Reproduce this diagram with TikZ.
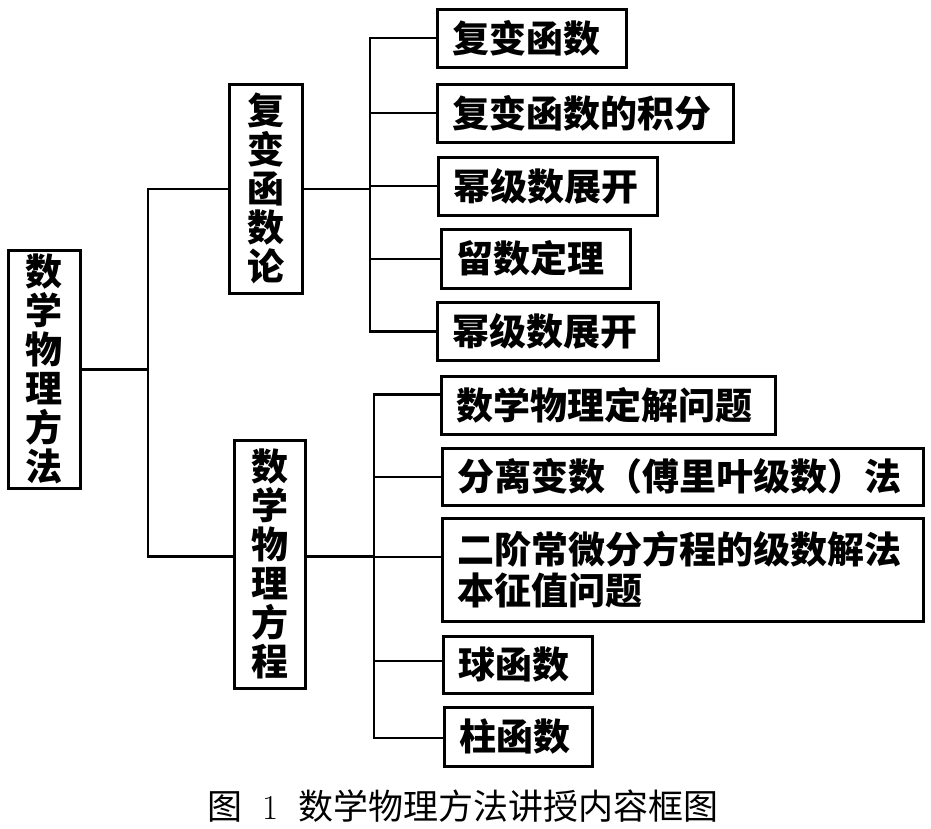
\documentclass[tikz,border=0pt]{standalone}
\usepackage{fontspec}
\newfontfamily\cjk{Noto Sans CJK SC}
\begin{document}
\begin{tikzpicture}[x=1pt, y=-1pt,
  box/.style={draw, line width=2.6pt, anchor=north west, inner sep=0pt},
  vbox/.style={box, align=center, font=\cjk\bfseries\fontsize{37}{39}\selectfont},
  leaf/.style={box, inner xsep=15pt, align=left, font=\cjk\bfseries\fontsize{37}{41}\selectfont},
  link/.style={line width=2.4pt, line cap=rect}]

\useasboundingbox (0,0) rectangle (931,829);

% vertical boxes
\node[vbox, minimum width=72pt, minimum height=238pt] (root) at (7,249) {数\\学\\物\\理\\方\\法};
\node[vbox, minimum width=73pt, minimum height=209pt] (A) at (228,83) {复\\变\\函\\数\\论};
\node[vbox, minimum width=71pt, minimum height=248pt] (B) at (233,439) {数\\学\\物\\理\\方\\程};

% first group
\node[leaf, text width=159pt, minimum height=58pt] (a1) at (436,8) {复变函数};
\node[leaf, text width=266pt, minimum height=58pt] (a2) at (436,83) {复变函数的积分};
\node[leaf, text width=189pt, minimum height=58pt] (a3) at (437,156) {幂级数展开};
\node[leaf, text width=159pt, minimum height=59pt] (a4) at (440,228) {留数定理};
\node[leaf, text width=191pt, minimum height=58pt] (a5) at (436,301) {幂级数展开};

% second group
\node[leaf, text width=304pt, minimum height=58pt] (b1) at (440,375) {数学物理定解问题};
\node[leaf, text width=451pt, minimum height=57pt] (b2) at (441,447) {分离变数（傅里叶级数）法};
\node[leaf, text width=451pt, minimum height=103pt] (b3) at (441,517) {二阶常微分方程的级数解法\\本征值问题};
\node[leaf, text width=119pt, minimum height=57pt] (b4) at (442,635) {球函数};
\node[leaf, text width=118pt, minimum height=59pt] (b5) at (443,706) {柱函数};

\coordinate (busL) at (148,0);
\coordinate (busA) at (370,0);
\coordinate (busB) at (374,0);
\coordinate (Bin) at ([yshift=8pt]B.west);
\coordinate (Bout) at ([yshift=8pt]B.east);
\foreach \n/\s in {1/11,2/0,3/13,4/4,5/-1}
  \coordinate (b\n in) at ([yshift=\s pt]b\n.west);

\draw[link] (root.east) -- (root.east -| busL);
\draw[link] (A.west) -- (A.west -| busL) -- (Bin -| busL) -- (Bin);

\draw[link] (A.east) -- (A.east -| busA);
\draw[link] (a1.west -| busA) -- (a5.west -| busA);
\foreach \n in {1,...,5}
  \draw[link] (a\n.west -| busA) -- (a\n.west);

\draw[link] (Bout) -- (Bout -| busB);
\draw[link] (b1in -| busB) -- (b5in -| busB);
\foreach \n in {1,...,5}
  \draw[link] (b\n in -| busB) -- (b\n in);

\node[font=\cjk\fontsize{35}{35}\selectfont] (cap) at (463,806) {图\hspace{20pt}{\rmfamily 1}\hspace{20pt}数学物理方法讲授内容框图};

\end{tikzpicture}
\end{document}
